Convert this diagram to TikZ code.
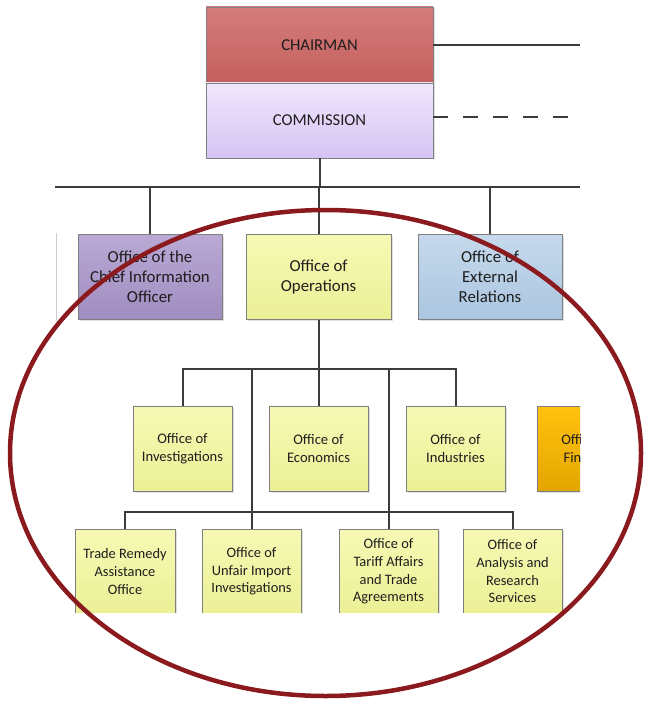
\documentclass[tikz,border=0pt]{standalone}
\usepackage{fontspec}
\setmainfont{Carlito}
\usepackage{xcolor}
\usepackage{tikz}
\usetikzlibrary{calc,shadows}
\definecolor{ink}{HTML}{1E1E1E}
\definecolor{wire}{HTML}{3C3C3C}
\definecolor{frame}{HTML}{7F7F7F}
\definecolor{chairtop}{HTML}{D47D7B}
\definecolor{chairbot}{HTML}{C45F5E}
\definecolor{commtop}{HTML}{F0E6FC}
\definecolor{commbot}{HTML}{D6C4F4}
\definecolor{ciotop}{HTML}{B9A9D4}
\definecolor{ciobot}{HTML}{A08DC1}
\definecolor{yeltop}{HTML}{F6F9B4}
\definecolor{yelbot}{HTML}{EBF096}
\definecolor{exttop}{HTML}{C6D9EC}
\definecolor{extbot}{HTML}{AAC6E0}
\definecolor{fintop}{HTML}{FFC20E}
\definecolor{finbot}{HTML}{E3A600}
\definecolor{ring}{HTML}{8B1A1E}
\tikzset{
  box/.style={draw=frame, line width=0.8pt, align=center, text=ink, inner sep=2pt,
    drop shadow={shadow xshift=1.5pt, shadow yshift=-1.5pt, opacity=0.25}},
  head/.style={box, minimum width=227pt, minimum height=76pt, font=\fontsize{16.6}{20}\selectfont},
  big/.style={box, minimum width=144pt, minimum height=85pt, font=\fontsize{16.8}{20}\selectfont},
  small/.style={box, minimum width=99pt, minimum height=85pt, font=\fontsize{14.6}{18.5}\selectfont},
  low/.style={small, font=\fontsize{14.4}{17.7}\selectfont},
  yel/.style={top color=yeltop, bottom color=yelbot},
  link/.style={draw=wire, line width=2pt},
  dashline/.style={link, dash pattern=on 15pt off 15pt},
  ringline/.style={draw=ring, line width=4.5pt},
}
\begin{document}
\begin{tikzpicture}[x=1pt, y=-1pt]
  \path[use as bounding box, fill=white] (0,0) rectangle (646,703);

  \begin{scope}
  \clip (0,0) rectangle (580,612);
  \coordinate (busA) at (55,187);
  \coordinate (busAR) at (580,187);
  \coordinate (commR) at (580,117);
  \coordinate (busB) at (0,369);
  \coordinate (busC) at (0,512);

  \draw[draw=frame!40, line width=0.8pt] (56,233) -- (56,321);

  \node[head, top color=chairtop, bottom color=chairbot] (chair) at (319.5,45) {CHAIRMAN};
  \node[head, top color=commtop, bottom color=commbot, minimum height=75pt] (comm) at (319.5,120.5) {COMMISSION};

  \node[big, top color=ciotop, bottom color=ciobot] (cio) at (150,277) {Office of the\\Chief Information\\Officer};
  \node[big, yel, minimum width=145pt] (ops) at (318.5,277) {Office of\\Operations};
  \node[big, top color=exttop, bottom color=extbot] (ext) at (490,277) {Office of\\External\\Relations};

  \node[small, yel] (inv) at (182.5,448.5) {Office of\\Investigations};
  \node[small, yel] (eco) at (318.5,448.5) {Office of\\Economics};
  \node[small, yel] (ind) at (455.5,448.5) {Office of\\Industries};
  \node[small, top color=fintop, bottom color=finbot] (fin) at (586.5,448.5) {Office of\\Finance};

  \node[low, yel, minimum width=100pt] (tra) at (125,571.5) {Trade Remedy\\Assistance\\Office};
  \node[low, yel] (unf) at (251.5,571.5) {Office of\\Unfair Import\\Investigations};
  \node[low, yel] (tar) at (388.5,571.5) {Office of\\Tariff Affairs\\and Trade\\Agreements};
  \node[low, yel] (ana) at (512.5,571.5) {Office of\\Analysis and\\Research\\Services};

  \draw[link] (chair.east) -- (chair.east -| busAR);
  \draw[dashline] (comm.east |- commR) -- (commR);
  \draw[link] (busA) -- (busAR);
  \draw[link] (comm.south) -- (comm.south |- busA);
  \foreach \n in {cio,ops,ext}
    \draw[link] (\n.north |- busA) -- (\n.north);

  \draw[link] (ops.south) -- (ops.south |- busB);
  \draw[link] (inv.north) -- (inv.north |- busB) -- (ind.north |- busB) -- (ind.north);
  \draw[link] (eco.north) -- (eco.north |- busB);
  \draw[link] (tra.north) -- (tra.north |- busC) -- (ana.north |- busC) -- (ana.north);
  \draw[link] (unf.north) -- (unf.north |- busB);
  \draw[link] (tar.north) -- (tar.north |- busB);
  \end{scope}

  \draw[ringline] (325.5,453) ellipse [x radius=315.5, y radius=243];
\end{tikzpicture}
\end{document}
